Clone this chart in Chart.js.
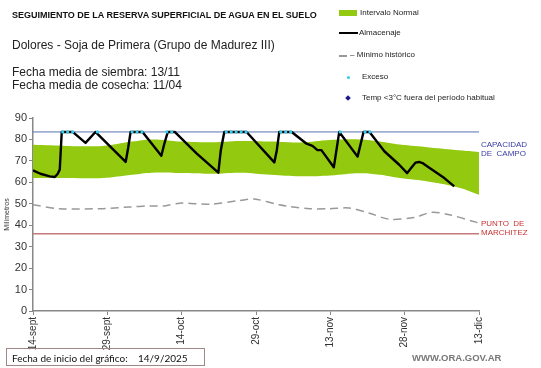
<!DOCTYPE html>
<html>
<head>
<meta charset="utf-8">
<script src="https://cdn.jsdelivr.net/npm/chart.js@4/dist/chart.umd.min.js"></script>
<style>
  body { margin: 0; background: #fff; font-family: 'Liberation Sans', Arial, sans-serif; }
  #wrap { position: relative; width: 541px; height: 368px; overflow: hidden; }
  #c { position: absolute; left: 0; top: 0; }
  .t { position: absolute; white-space: nowrap; line-height: 1; }
  .title { left: 12px; top: 11px; font-size: 9px; font-weight: bold; color: #111; }
  .sub { left: 12px; font-size: 12px; color: #222; }
  .leg { font-size: 8px; color: #222; }
  .sw { position: absolute; }
  .side { font-size: 8px; left: 481px; }
  .box { position: absolute; left: 6px; top: 348px; width: 199px; height: 18px; border: 1px solid #a08888; box-sizing: border-box; font-family: Lato, sans-serif; font-size: 10px; color: #111; }
  .web { left: 412px; top: 353px; font-size: 9.5px; font-weight: bold; color: #777; }
</style>
</head>
<body>
<div id="wrap">
  <canvas id="c" width="541" height="368"></canvas>

  <div class="t title">SEGUIMIENTO DE LA RESERVA SUPERFICIAL DE AGUA EN EL SUELO</div>
  <div class="t sub" style="top:39px">Dolores - Soja de Primera (Grupo de Madurez III)</div>
  <div class="t sub" style="top:66px">Fecha media de siembra: 13/11</div>
  <div class="t sub" style="top:79px">Fecha media de cosecha: 11/04</div>

  <!-- legend -->
  <div class="sw" style="left:339px;top:10px;width:18px;height:6px;background:#93c90e"></div>
  <div class="t leg" style="left:360px;top:9px">Intervalo Normal</div>
  <div class="sw" style="left:339px;top:32px;width:19px;height:2px;background:#000"></div>
  <div class="t leg" style="left:359px;top:29px">Almacenaje</div>
  <div class="sw" style="left:339px;top:55px;width:8px;height:1.5px;background:#999"></div>
  <div class="t leg" style="left:350px;top:51px">– Mínimo histórico</div>
  <div class="sw" style="left:347px;top:76px;width:3px;height:3px;background:#33ccee;border-radius:50%"></div>
  <div class="t leg" style="left:362px;top:73px">Exceso</div>
  <div class="sw" style="left:346px;top:96px;width:4px;height:4px;background:#1a1a8c;transform:rotate(45deg)"></div>
  <div class="t leg" style="left:362px;top:94px">Temp &lt;3°C fuera del período habitual</div>

  <div class="t side" style="top:141px;color:#3a3aa8">CAPACIDAD</div>
  <div class="t side" style="top:150px;color:#3a3aa8">DE&nbsp; CAMPO</div>
  <div class="t side" style="top:220px;color:#cc3333">PUNTO&nbsp; DE</div>
  <div class="t side" style="top:229px;color:#cc3333">MARCHITEZ</div>

  <div class="box"><span style="position:absolute;left:5px;top:3px">Fecha de inicio del gráfico:</span><span style="position:absolute;left:131px;top:3px">14/9/2025</span></div>
  <div class="t web">WWW.ORA.GOV.AR</div>
</div>

<script>
// x values are days since 14-sept
const xTickLabels = ['14-sept', '29-sept', '14-oct', '29-oct', '13-nov', '28-nov', '13-dic'];
const totalDays = 90;

const bandDays  = [0, 7, 14, 20, 24, 30, 36, 42, 48, 54, 60, 66, 70, 74, 80, 86, 90];
const bandUpper = [77.5, 77, 77, 79, 80, 79, 78.7, 79.3, 79, 78.6, 79.7, 80, 79, 77.6, 76.3, 75, 74.2];
const bandLower = [62, 62, 62, 63.5, 64.5, 64.3, 64, 64.5, 63.5, 62.8, 63.2, 64.2, 63.5, 62, 60.3, 57.5, 54.2];

const minDays   = [0, 5.4, 13.4, 19.5, 23.5, 26.5, 29.6, 35.6, 41.7, 44.7, 49.7, 51.8, 55.8, 59.8, 63.8, 67.9, 71.9, 76.9, 80.4, 84, 90];
const minValues = [49.5, 47.7, 47.7, 48.5, 49, 49, 50.3, 49.8, 51.5, 52.2, 49.5, 48.7, 47.7, 47.7, 48, 45.6, 42.8, 43.6, 46, 44.9, 41];

const almDays   = [0, 1.5, 3.4, 4.4, 5.0, 5.4, 5.8, 8.0, 10.6, 12.6, 18.7, 19.2, 19.7, 22.1, 25.9, 26.5, 27.2, 28.6, 33.0, 37.4, 37.9, 38.6, 43.1, 48.7, 49.2, 49.7, 52.2, 55.2, 56.4, 57.4, 58.2, 60.7, 61.8, 65.5, 66.7, 67.9, 70.9, 73.9, 75.5, 76.3, 77.2, 77.9, 78.6, 79.6, 83.0, 85.0];
const almValues = [65.6, 64, 62.8, 62.5, 64, 66, 83.5, 83.5, 78.4, 83.5, 69.5, 76, 83.5, 83.5, 72.4, 78, 83.5, 83.5, 73.5, 64.5, 75, 83.5, 83.5, 69.3, 75, 83.5, 83.5, 78, 77, 75, 75, 67, 83.5, 72, 83.5, 83.5, 74.5, 68.2, 64.3, 66.7, 69.2, 69.5, 69, 67.4, 62, 58.1];

const excesoDays = [6, 7, 8, 13, 20, 21, 22, 27, 28, 39, 40, 41, 42, 43, 50, 51, 52, 62, 67, 68];
const capacidadCampo = 83.5;
const puntoMarchitez = 36;

const pts = (xs, ys) => xs.map((x, i) => ({ x, y: ys[i] }));

new Chart(document.getElementById('c'), {
  type: 'line',
  data: {
    datasets: [
      { data: pts(bandDays, bandLower), borderWidth: 0, pointRadius: 0, tension: 0.4, fill: false, order: 6 },
      { data: pts(bandDays, bandUpper), borderWidth: 0, pointRadius: 0, tension: 0.4,
        fill: { target: '-1' }, backgroundColor: '#93c90e', order: 5 },
      { data: [{ x: 0, y: puntoMarchitez }, { x: totalDays, y: puntoMarchitez }],
        borderColor: '#c47a7a', borderWidth: 1.5, pointRadius: 0, order: 4 },
      { data: [{ x: 0, y: capacidadCampo }, { x: totalDays, y: capacidadCampo }],
        borderColor: '#5572b0', borderWidth: 1, pointRadius: 0, order: 3 },
      { data: pts(minDays, minValues), borderColor: '#999', borderWidth: 1.5, borderDash: [8, 5],
        pointRadius: 0, tension: 0.3, order: 2 },
      { data: pts(almDays, almValues), borderColor: '#000', borderWidth: 2.4, pointRadius: 0,
        tension: 0, borderJoinStyle: 'round', order: 1 },
      { data: excesoDays.map(d => ({ x: d, y: capacidadCampo })), showLine: false,
        pointRadius: 1.6, pointBackgroundColor: '#33ccee', pointBorderWidth: 0, order: 0 }
    ]
  },
  options: {
    responsive: false,
    animation: false,
    layout: { padding: { top: 118, right: 62, bottom: 0, left: 3 } },
    plugins: { legend: { display: false }, tooltip: { enabled: false } },
    scales: {
      x: {
        type: 'linear', min: 0, max: totalDays,
        afterFit: s => { s.height = 57; },
        grid: { drawOnChartArea: false, drawTicks: true, tickLength: 4, color: '#888' },
        border: { color: '#888', width: 1.5 },
        ticks: {
          stepSize: 15, maxRotation: 90, minRotation: 90, autoSkip: false, padding: 2,
          color: '#333', font: { family: "'Liberation Sans', Arial", size: 10 },
          callback: (v) => xTickLabels[Math.round(v / 15)]
        }
      },
      y: {
        min: 0, max: 90,
        afterFit: s => { s.width = 30; },
        grid: { drawOnChartArea: false, drawTicks: true, tickLength: 4, color: '#888' },
        border: { color: '#888', width: 1.5 },
        title: { display: true, text: 'Milímetros', color: '#333', padding: 0,
          font: { family: "'Liberation Sans', Arial", size: 7 } },
        ticks: { stepSize: 10, padding: 2, color: '#333', font: { family: "'Liberation Sans', Arial", size: 11 } }
      }
    }
  }
});
</script>
</body>
</html>
